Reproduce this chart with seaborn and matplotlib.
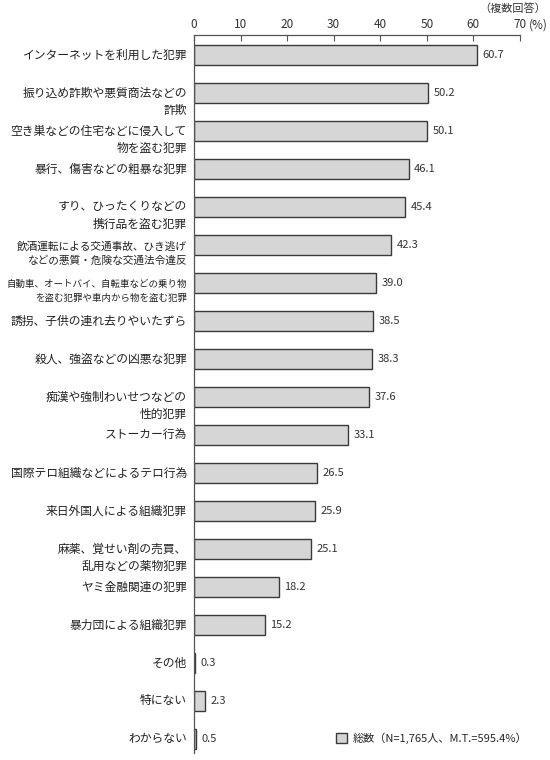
import matplotlib
matplotlib.use("Agg")
import matplotlib.pyplot as plt
import matplotlib.transforms as mtransforms
import seaborn as sns
import pandas as pd

categories = [
    "インターネットを利用した犯罪",
    "振り込め詐欺や悪質商法などの\n詐欺",
    "空き巣などの住宅などに侵入して\n物を盗む犯罪",
    "暴行、傷害などの粗暴な犯罪",
    "すり、ひったくりなどの\n携行品を盗む犯罪",
    "飲酒運転による交通事故、ひき逃げ\nなどの悪質・危険な交通法令違反",
    "自動車、オートバイ、自転車などの乗り物\nを盗む犯罪や車内から物を盗む犯罪",
    "誘拐、子供の連れ去りやいたずら",
    "殺人、強盗などの凶悪な犯罪",
    "痴漢や強制わいせつなどの\n性的犯罪",
    "ストーカー行為",
    "国際テロ組織などによるテロ行為",
    "来日外国人による組織犯罪",
    "麻薬、覚せい剤の売買、\n乱用などの薬物犯罪",
    "ヤミ金融関連の犯罪",
    "暴力団による組織犯罪",
    "その他",
    "特にない",
    "わからない",
]
values = [60.7, 50.2, 50.1, 46.1, 45.4, 42.3, 39.0, 38.5, 38.3, 37.6,
          33.1, 26.5, 25.9, 25.1, 18.2, 15.2, 0.3, 2.3, 0.5]
x_ticks = [0, 10, 20, 30, 40, 50, 60, 70]
series_label = "総数（N=1,765人、M.T.=595.4%）"

df = pd.DataFrame({"category": categories, "value": values})

sns.set_style("white")
plt.rcParams["font.family"] = ["Noto Sans CJK JP", "DejaVu Sans"]

fig = plt.figure(figsize=(5.5, 7.6), dpi=100)
ax = fig.add_axes([194 / 550, 1 - 753 / 760, (520 - 194) / 550, (753 - 35) / 760])

sns.barplot(data=df, x="value", y="category", orient="h", ax=ax,
            color="#d6d6d6", edgecolor="#3a3a3a", linewidth=1.0,
            width=0.53, label=series_label, saturation=1)

ax.set_xlim(0, 70)
ax.set_ylim(18.37, -0.53)
ax.set_xlabel("")
ax.set_ylabel("")
ax.xaxis.tick_top()
ax.set_xticks(x_ticks)
ax.set_xticklabels([str(t) for t in x_ticks], fontsize=8.5, color="#333333")
ax.tick_params(axis="x", direction="in", length=4, width=0.8, color="#555555", pad=3, top=True, bottom=False)
ax.tick_params(axis="y", length=0, labelleft=False)

# category labels: multi-line labels have their first line level with the bar
small = {5: 7.7, 6: 6.8}
line_px = 16.7
base = mtransforms.blended_transform_factory(ax.transAxes, ax.transData)
for i, cat in enumerate(categories):
    fs = small.get(i, 8.5)
    nlines = cat.count("\n") + 1
    ls = line_px / (fs * 1.389 * 1.0) if nlines > 1 else 1.2
    dy = -(nlines - 1) * line_px / 2 / 100  # inches
    tr = base + mtransforms.ScaledTranslation(-7 / 100, dy, fig.dpi_scale_trans)
    ax.text(0, i, cat, transform=tr, ha="right", va="center", fontsize=fs,
            color="#222222", linespacing=ls, multialignment="right")

for s in ["right", "bottom"]:
    ax.spines[s].set_visible(False)
for s in ["top", "left"]:
    ax.spines[s].set_color("#555555")
    ax.spines[s].set_linewidth(0.9)

for c in ax.containers:
    ax.bar_label(c, fmt="%.1f", padding=4, fontsize=8, color="#333333")

fig.text(529 / 550, 1 - 25 / 760, "(%)", ha="left", va="center", fontsize=8.5, color="#333333")
fig.text(546 / 550, 1 - 8 / 760, "（複数回答）", ha="right", va="center", fontsize=8, color="#333333")

ax.legend(loc="center left", bbox_to_anchor=(336 / 550, 1 - 738 / 760),
          bbox_transform=fig.transFigure, frameon=False, fontsize=8,
          handlelength=1.0, handleheight=1.1, handletextpad=0.5,
          borderpad=0, borderaxespad=0)

fig.savefig("out.png", dpi=100)
